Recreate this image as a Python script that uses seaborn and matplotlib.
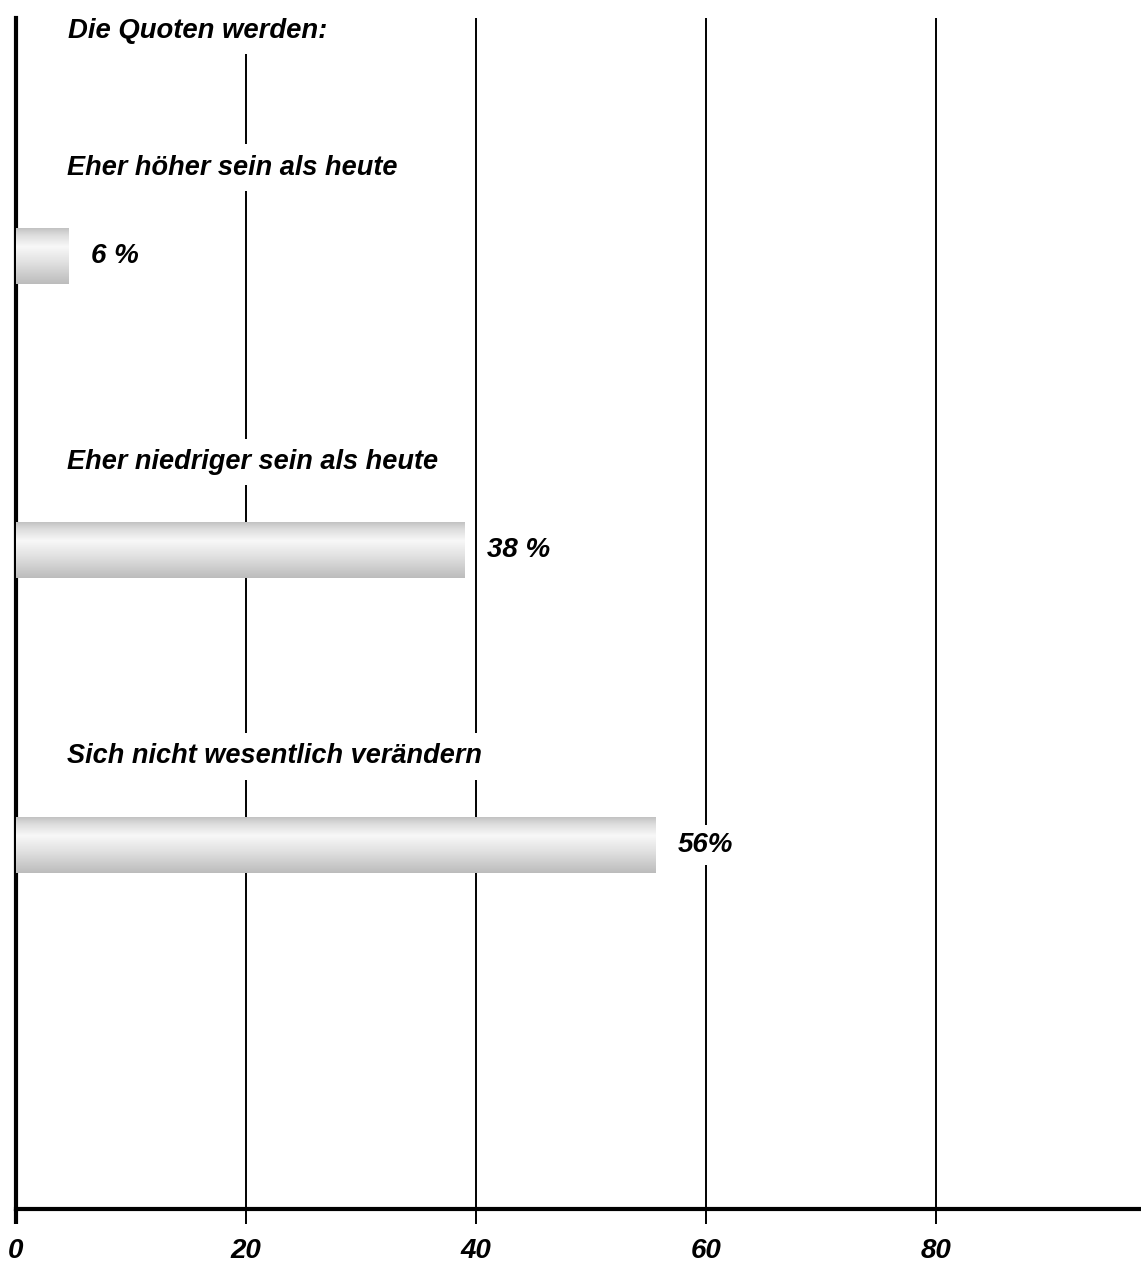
import numpy as np
import pandas as pd
import matplotlib
matplotlib.use("Agg")
import matplotlib.pyplot as plt
from matplotlib import font_manager
from matplotlib.colors import LinearSegmentedColormap
import seaborn as sns

# ---- data ----
title_text = "Die Quoten werden:"
categories = ["Eher höher sein als heute",
              "Eher niedriger sein als heute",
              "Sich nicht wesentlich verändern"]
bar_values = [4.6, 39.0, 55.6]
value_labels = ["6 %", "38 %", "56%"]
x_ticks = [0, 20, 40, 60, 80]
x_tick_labels = ["0", "20", "40", "60", "80"]

sns.set_theme(style="white")
plt.rcParams["font.family"] = ["Liberation Sans", "DejaVu Sans"]

installed = {f.name for f in font_manager.fontManager.ttflist}
if "Liberation Sans Narrow" in installed:
    tick_family, tick_size = ["Liberation Sans Narrow", "DejaVu Sans"], 22
else:
    tick_family, tick_size = ["Liberation Sans", "DejaVu Sans"], 20

W, H = 1141, 1264
fig = plt.figure(figsize=(W / 100, H / 100), dpi=100)
ax = fig.add_axes([16 / W, (H - 1209) / H, (W - 16) / W, (1209 - 18) / H])

df = pd.DataFrame({"cat": categories, "val": bar_values})
sns.barplot(data=df, x="val", y="cat", orient="h", ax=ax, width=0.19,
            color="#d0d0d0", linewidth=0, saturation=1, zorder=3)

xlim = (0, 97.8)
ylim = (3.237, -0.808)

# cylindrical grey gradient inside each bar
cmap = LinearSegmentedColormap.from_list(
    "cyl", [(0.0, "#c2c2c2"), (0.12, "#dcdcdc"), (0.33, "#f8f8f8"),
            (0.6, "#e2e2e2"), (1.0, "#bcbcbc")])
grad = np.linspace(0, 1, 256).reshape(-1, 1)
for p in list(ax.patches):
    x0, y0 = p.get_x(), p.get_y()
    w, h = p.get_width(), p.get_height()
    im = ax.imshow(grad, extent=[x0, x0 + w, y0 + h, y0], origin="upper",
                   aspect="auto", cmap=cmap, zorder=3, interpolation="bilinear")
    im.set_clip_path(p)
    p.set_facecolor("none")

ax.set_xlim(*xlim)
ax.set_ylim(*ylim)

# grid & spines
ax.set_xticks(x_ticks)
ax.set_xticklabels(x_tick_labels)
ax.grid(axis="x", color="black", linewidth=1.4, zorder=1)
ax.grid(axis="y", visible=False)
ax.set_axisbelow(True)
ax.set_yticks([])
ax.set_xlabel("")
ax.set_ylabel("")
for s in ["top", "right"]:
    ax.spines[s].set_visible(False)
ax.spines["left"].set_linewidth(3)
ax.spines["left"].set_color("black")
ax.spines["bottom"].set_linewidth(3)
ax.spines["bottom"].set_color("black")
ax.tick_params(axis="x", direction="out", length=11, width=1.4, color="black",
               bottom=True, pad=10)
ax.xaxis.get_major_ticks()[0].tick1line.set_markeredgewidth(3)
for t in ax.get_xticklabels():
    t.set_family(tick_family)
    t.set_fontweight("bold")
    t.set_fontstyle("italic")
    t.set_fontsize(tick_size)
    t.set_color("black")
    t.set_horizontalalignment("center")

box = dict(boxstyle="square,pad=0.38", facecolor="white", edgecolor="none")
vbox = dict(boxstyle="square,pad=0.25", facecolor="white", edgecolor="none")
txt_kw = dict(fontweight="bold", fontstyle="italic", color="black", zorder=4)

ax.text(4.5, -0.765, title_text, ha="left", va="center", bbox=box,
        fontsize=19.8, **txt_kw)
for i, (cat, val, lab) in enumerate(zip(categories, bar_values, value_labels)):
    ax.text(4.4, i - 0.30, cat, ha="left", va="center", bbox=box,
            fontsize=19.5, **txt_kw)
    ax.annotate(lab, xy=(val, i), xytext=(22, 0), textcoords="offset pixels",
                ha="left", va="center", bbox=vbox, fontsize=20, **txt_kw)

fig.savefig("out.png", dpi=100, facecolor="white")
